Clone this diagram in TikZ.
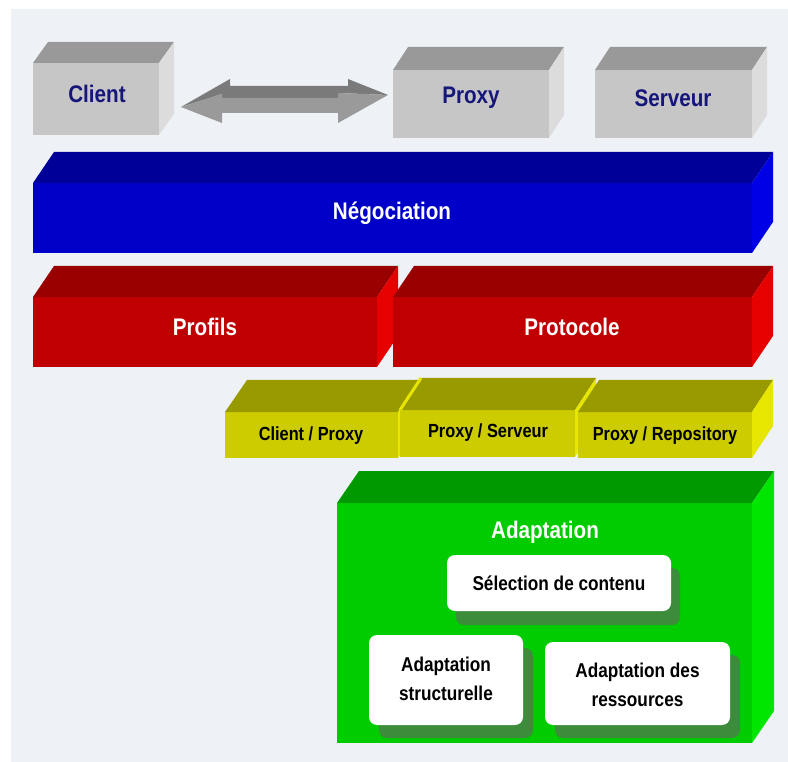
\documentclass[tikz,border=0pt]{standalone}
\usepackage{fontspec}
\setmainfont{Liberation Sans}[FakeStretch=0.86]
\usetikzlibrary{calc}

% palette
\definecolor{bgpaper}{HTML}{EEF2F6}
\definecolor{grayfront}{HTML}{C6C6C6}
\definecolor{graytop}{HTML}{999999}
\definecolor{grayside}{HTML}{DCDCDC}
\definecolor{bluefront}{HTML}{0000C8}
\definecolor{bluetop}{HTML}{000099}
\definecolor{blueside}{HTML}{0000E6}
\definecolor{redfront}{HTML}{C00000}
\definecolor{redtop}{HTML}{990000}
\definecolor{redside}{HTML}{E60000}
\definecolor{yelfront}{HTML}{CCCC00}
\definecolor{yeltop}{HTML}{999900}
\definecolor{yelside}{HTML}{E6E600}
\definecolor{grnfront}{HTML}{00CC00}
\definecolor{grntop}{HTML}{009900}
\definecolor{grnside}{HTML}{00E600}
\definecolor{grnshadow}{HTML}{3C8C3C}
\definecolor{arrowfront}{HTML}{9A9A9A}
\definecolor{arrowtop}{HTML}{7A7A7A}
\definecolor{navytext}{HTML}{15157A}

% top and right faces of a block whose front face is node #1
\newcommand\blockfaces[5]{%
  \fill[#4] (#1.north west) -- ++(#2,#3) -- ($(#1.north east)+(#2,#3)$) -- (#1.north east) -- cycle;
  \fill[#5] (#1.north east) -- ++(#2,#3) -- ($(#1.south east)+(#2,#3)$) -- (#1.south east) -- cycle;}

\tikzset{
  front/.style={draw=none, inner sep=0pt, outer sep=0pt, anchor=north west},
  biglbl/.style={font=\bfseries\fontsize{24}{28}\selectfont, inner sep=0pt},
  midlbl/.style={font=\bfseries\fontsize{19}{23}\selectfont, inner sep=0pt, text=black},
  boxlbl/.style={font=\bfseries\fontsize{20}{29}\selectfont, inner sep=0pt, text=black, align=center},
  card/.style={draw=none, fill=white, rounded corners=8pt, inner sep=0pt, outer sep=0pt, anchor=north west},
}

\begin{document}
\begin{tikzpicture}[x=1pt, y=-1pt]
\useasboundingbox (0,0) rectangle (788,762);
\fill[white] (0,0) rectangle (788,762);
\fill[bgpaper] (11,9) rectangle (788,762);

% --- top row: Client, Proxy, Serveur ---
\node[front, fill=grayfront, minimum width=126pt, minimum height=72pt] (client) at (33,63) {};
\blockfaces{client}{15}{-21}{graytop}{grayside}
\node[biglbl, text=navytext] (clientlbl) at (97,94) {Client};

\node[front, fill=grayfront, minimum width=156pt, minimum height=68pt] (proxy) at (393,70) {};
\blockfaces{proxy}{15}{-23}{graytop}{grayside}
\node[biglbl, text=navytext] (proxylbl) at (471,98) {Proxy};

\node[front, fill=grayfront, minimum width=157pt, minimum height=68pt] (serveur) at (595,70) {};
\blockfaces{serveur}{15}{-23}{graytop}{grayside}
\node[biglbl, text=navytext] (serveurlbl) at (673,98) {Serveur};

% --- double block arrow between Client and Proxy ---
\coordinate (ltip) at (181,107);
\coordinate (rtip) at (388,95);
\fill[arrowtop] (ltip) -- (230,79) -- (230,86) -- (348,86) -- (348,79) -- (rtip)
  -- (338,93) -- (338,98) -- (222,98) -- (222,94) -- cycle;
\fill[arrowfront] (ltip) -- (222,94) -- (222,98) -- (338,98) -- (338,93) -- (rtip)
  -- (338,123) -- (338,113) -- (222,113) -- (222,123) -- cycle;

% --- Négociation ---
\node[front, fill=bluefront, minimum width=719pt, minimum height=70pt] (nego) at (33,183) {};
\blockfaces{nego}{21}{-31}{bluetop}{blueside}
\node[biglbl, text=white] (negolbl) at (392,213) {Négociation};

% --- Profils / Protocole ---
\node[front, fill=redfront, minimum width=344pt, minimum height=70pt] (profils) at (33,297) {};
\blockfaces{profils}{21}{-31}{redtop}{redside}
\node[biglbl, text=white] (profilslbl) at (205,327) {Profils};

\node[front, fill=redfront, minimum width=359pt, minimum height=70pt] (protocole) at (393,297) {};
\blockfaces{protocole}{21}{-31}{redtop}{redside}
\node[biglbl, text=white] (protocolelbl) at (572,327) {Protocole};

% --- protocol variants ---
\node[front, fill=yelfront, minimum width=173pt, minimum height=46pt] (cp) at (225,412) {};
\blockfaces{cp}{22}{-32}{yeltop}{yelside}
\node[midlbl] (cplbl) at (311,436) {Client / Proxy};

\node[front, fill=yelfront, minimum width=175pt, minimum height=47pt] (ps) at (400,410) {};
\blockfaces{ps}{21}{-32}{yeltop}{yelside}
% bright edge of the neighbouring block showing along the left rim
\draw[yelside, line width=3pt] (ps.north west) -- ++(21,-32);
\node[midlbl] (pslbl) at (488,433) {Proxy / Serveur};

\node[front, fill=yelfront, minimum width=174pt, minimum height=46pt] (pr) at (578,412) {};
\blockfaces{pr}{21}{-32}{yeltop}{yelside}
\node[midlbl] (prlbl) at (665,436) {Proxy / Repository};

% --- Adaptation ---
\node[front, fill=grnfront, minimum width=415pt, minimum height=240pt] (adapt) at (337,503) {};
\blockfaces{adapt}{22}{-32}{grntop}{grnside}
\node[biglbl, text=white] (adaptlbl) at (545,532) {Adaptation};

% shadows of the cards
\fill[grnshadow, rounded corners=8pt] (456,568) rectangle (680,625);
\fill[grnshadow, rounded corners=8pt] (379,648) rectangle (533,738);
\fill[grnshadow, rounded corners=8pt] (555,655) rectangle (740,738);

\node[card, minimum width=224pt, minimum height=56pt] (sel) at (447,555) {};
\node[boxlbl] (sellbl) at (sel.center) {Sélection de contenu};

\node[card, minimum width=154pt, minimum height=90pt] (struct) at (369,635) {};
\node[boxlbl] (structlbl) at ($(struct.center)+(0,-1)$) {Adaptation\\structurelle};

\node[card, minimum width=185pt, minimum height=83pt] (res) at (545,642) {};
\node[boxlbl] (reslbl) at ($(res.center)+(0,1)$) {Adaptation des\\ressources};
\end{tikzpicture}
\end{document}
